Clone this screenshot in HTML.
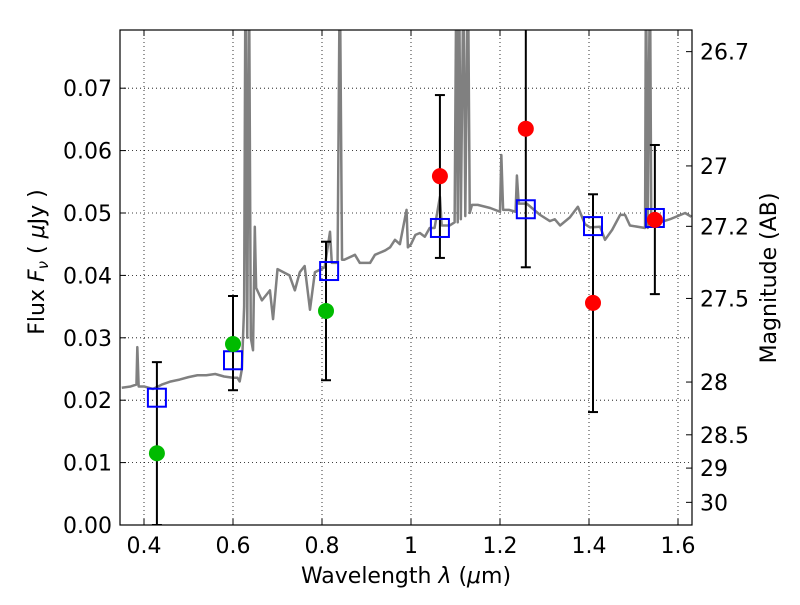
<!DOCTYPE html>
<html><head><meta charset="utf-8"><style>
body{margin:0;background:#fff;width:800px;height:600px;overflow:hidden}
svg{font-family:"DejaVu Sans","Liberation Sans",sans-serif}
</style></head><body>
<svg id="chart" width="800" height="600" xmlns="http://www.w3.org/2000/svg"></svg>
<script>
const specLam=[0.35,0.37,0.383,0.385,0.388,0.40,0.42,0.44,0.46,0.48,0.50,0.52,0.54,0.56,0.58,0.60,0.61,0.615,0.62,0.625,0.628,0.632,0.636,0.64,0.645,0.649,0.652,0.665,0.683,0.69,0.70,0.727,0.739,0.75,0.761,0.773,0.784,0.806,0.818,0.822,0.835,0.84,0.845,0.85,0.874,0.885,0.908,0.919,0.942,0.953,0.964,0.975,0.99,0.993,1.0,1.01,1.02,1.031,1.042,1.053,1.065,1.069,1.087,1.098,1.102,1.105,1.108,1.112,1.118,1.122,1.128,1.132,1.137,1.15,1.178,1.20,1.203,1.207,1.22,1.235,1.238,1.242,1.26,1.29,1.312,1.323,1.335,1.357,1.375,1.391,1.402,1.425,1.436,1.452,1.47,1.481,1.492,1.526,1.528,1.532,1.537,1.54,1.56,1.582,1.616,1.63];
const specFlux=[0.0220,0.0222,0.0225,0.0285,0.0222,0.0222,0.0218,0.0225,0.0230,0.0233,0.0237,0.0240,0.0240,0.0242,0.0238,0.0236,0.0236,0.0230,0.0250,0.0350,0.09,0.0300,0.09,0.0300,0.0280,0.0478,0.0380,0.0360,0.0376,0.0330,0.0410,0.0400,0.0376,0.0405,0.0415,0.0345,0.0405,0.0413,0.0470,0.0420,0.0420,0.09,0.0425,0.0425,0.0433,0.0420,0.0420,0.0433,0.0440,0.0445,0.0457,0.0450,0.0505,0.0445,0.0450,0.0465,0.0468,0.0462,0.0476,0.0476,0.0526,0.0480,0.0480,0.0485,0.09,0.0485,0.09,0.0490,0.09,0.0495,0.09,0.0500,0.0513,0.0513,0.0508,0.0502,0.0593,0.0505,0.0505,0.0502,0.0560,0.0515,0.0515,0.0497,0.0487,0.0490,0.0480,0.0493,0.0510,0.0482,0.0477,0.0478,0.0457,0.0473,0.0497,0.0497,0.0480,0.0476,0.09,0.0476,0.09,0.0478,0.0485,0.0490,0.0500,0.0494];
const modelLam=[0.429,0.600,0.816,1.065,1.258,1.409,1.548];
const modelFlux=[0.0204,0.0264,0.0407,0.0476,0.0506,0.0479,0.0492];
const greenLam=[0.429,0.600,0.809];
const greenFlux=[0.0115,0.0290,0.0343];
const greenHi=[0.0261,0.0367,0.0454];
const greenLo=[0.0,0.0216,0.0232];
const redLam=[1.065,1.258,1.409,1.548];
const redFlux=[0.0559,0.0635,0.0356,0.0489];
const redHi=[0.0689,0.0857,0.0530,0.0609];
const redLo=[0.0428,0.0413,0.0181,0.0370];
const xTicks=[0.4,0.6,0.8,1.0,1.2,1.4,1.6];
const xTickLabels=["0.4","0.6","0.8","1","1.2","1.4","1.6"];
const yTicks=[0,0.01,0.02,0.03,0.04,0.05,0.06,0.07];
const yTickLabels=["0.00","0.01","0.02","0.03","0.04","0.05","0.06","0.07"];
const magTicks=[26.7,27,27.2,27.5,28,28.5,29,30];
const magTickLabels=["26.7","27","27.2","27.5","28","28.5","29","30"];

const L=120,R=692,T=30,B=525;
const X=l=>144+(l-0.4)*445;
const Y=f=>525-f*6240;
const svg=document.getElementById('chart');
const NS='http://www.w3.org/2000/svg';
function mk(tag,attrs,parent){const e=document.createElementNS(NS,tag);for(const k in attrs)e.setAttribute(k,attrs[k]);(parent||svg).appendChild(e);return e;}

const clip=mk('clipPath',{id:'pc'});mk('rect',{x:L,y:T,width:R-L,height:B-T},clip);

xTicks.forEach((t,i)=>{const x=X(t);
 const g=mk('line',{x1:x,x2:x,y1:T,y2:B,stroke:'#000','stroke-width':0.8,'stroke-dasharray':'1,3'});
 
 mk('line',{x1:x,x2:x,y1:B,y2:B-6,stroke:'#000'});mk('line',{x1:x,x2:x,y1:T,y2:T+6,stroke:'#000'});
 const t2=mk('text',{x:x,y:B+28,'font-size':22,'text-anchor':'middle'});t2.textContent=xTickLabels[i];
 });
yTicks.forEach((t,i)=>{const y=Y(t);
 const g=mk('line',{x1:L,x2:R,y1:y,y2:y,stroke:'#000','stroke-width':0.8,'stroke-dasharray':'1,3'});
 
 mk('line',{x1:L,x2:L+6,y1:y,y2:y,stroke:'#000'});
 const t2=mk('text',{x:L-8,y:y+8,'font-size':22,'text-anchor':'end'});t2.textContent=yTickLabels[i];
 });
magTicks.forEach((m,i)=>{const y=Y(Math.pow(10,(23.9-m)/2.5));
 mk('line',{x1:R,x2:R-6,y1:y,y2:y,stroke:'#000'});
 const t2=mk('text',{x:R+8,y:y+8,'font-size':22});t2.textContent=magTickLabels[i];
 });

const g=mk('g',{'clip-path':'url(#pc)'});
const sp=mk('polyline',{points:specLam.map((l,i)=>X(l)+','+Y(specFlux[i])).join(' '),fill:'none',stroke:'#808080','stroke-width':2.5,'stroke-linejoin':'round'},g);


function errbar(l,lo,hi){const x=X(l);
 const e=mk('g',{},g);
 mk('line',{x1:x,x2:x,y1:Y(lo),y2:Y(hi),stroke:'#000','stroke-width':2},e);
 [lo,hi].forEach(v=>mk('line',{x1:x-5,x2:x+5,y1:Y(v),y2:Y(v),stroke:'#000','stroke-width':2},e));}
greenLam.forEach((l,i)=>errbar(l,greenLo[i],greenHi[i]));
redLam.forEach((l,i)=>errbar(l,redLo[i],redHi[i]));
modelLam.forEach((l,i)=>{const r=mk('rect',{x:X(l)-9,y:Y(modelFlux[i])-9,width:18,height:18,fill:'none',stroke:'#0000ff','stroke-width':2},g);
 });
greenLam.forEach((l,i)=>{const c=mk('circle',{cx:X(l),cy:Y(greenFlux[i]),r:8,fill:'#00bb00'},g);
 });
redLam.forEach((l,i)=>{const c=mk('circle',{cx:X(l),cy:Y(redFlux[i]),r:8,fill:'#ff0000'},g);
 });

const fr=mk('rect',{x:L,y:T,width:R-L,height:B-T,fill:'none',stroke:'#000','stroke-width':1.2});


const xl=mk('text',{x:406,y:583,'font-size':22,'text-anchor':'middle'});
xl.innerHTML='Wavelength  <tspan font-style="italic">λ</tspan> (<tspan font-style="italic">μ</tspan>m)';

const yl=mk('text',{x:0,y:0,'font-size':22,'text-anchor':'middle',transform:'translate(44,262) rotate(-90)'});
yl.innerHTML='Flux  <tspan font-style="italic">F</tspan><tspan font-style="italic" font-size="15" dy="4">ν</tspan><tspan dy="-4">  ( </tspan><tspan font-style="italic">μ</tspan>Jy )';

const rl=mk('text',{x:0,y:0,'font-size':22,'text-anchor':'middle',transform:'translate(776,278) rotate(-90)'});
rl.textContent='Magnitude (AB)';

</script>
</body></html>
